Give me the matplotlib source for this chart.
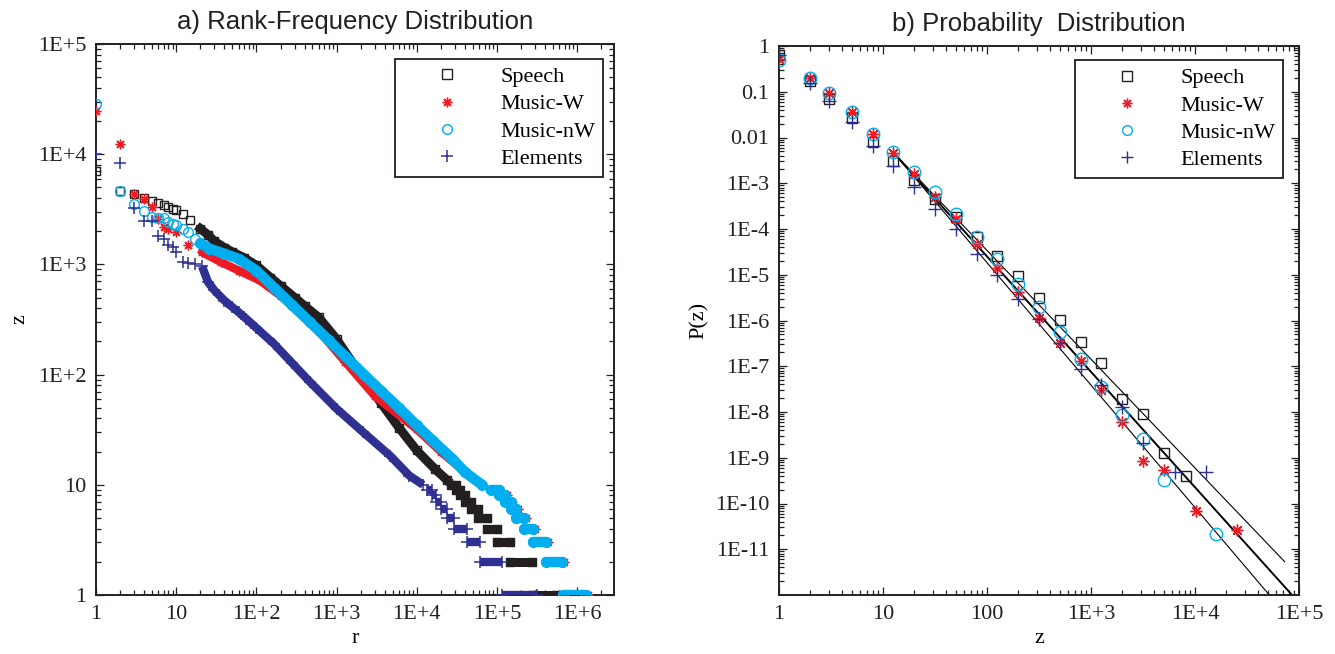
import numpy as np
import matplotlib.pyplot as plt
from matplotlib.ticker import FixedLocator, FixedFormatter, LogLocator, NullFormatter

# ---------------- a) rank-frequency data (read off the picture) ----------------
speech_r = [1, 2, 3, 4, 5, 6, 7, 8, 9, 10, 12, 15, 20, 25, 30, 40, 50, 70, 100, 150,
            200, 300, 400, 600, 1000, 1750, 3600, 6000, 10000, 16700, 24000]
speech_z = [7050, 4640, 4390, 4040, 3800, 3630, 3490, 3320, 3210, 3100, 2890, 2510, 2110, 1850, 1620,
            1420, 1300, 1150, 980, 760, 640, 500, 420, 330, 210, 115, 55, 33, 20.5, 14, 11]
speech_bar_z = [10, 9, 8, 7, 6, 5, 4, 3, 2, 1]
speech_bar_lo = [2.7e4, 3.1e4, 3.5e4, 4.0e4, 4.7e4, 5.8e4, 7.5e4, 1.0e5, 1.45e5, 2.7e5]
speech_bar_hi = [3.1e4, 3.5e4, 4.0e4, 4.7e4, 5.8e4, 7.5e4, 1.0e5, 1.45e5, 2.7e5, 5.7e5]

musw_r = [1, 2, 3, 4, 5, 6, 7, 8, 10, 14, 21, 36, 60, 110, 200, 400, 600, 1290, 3000,
          10000, 20000, 40000, 65000]
musw_z = [24800, 12300, 4390, 3950, 3320, 2600, 2200, 2100, 1970, 1490, 1290, 1050, 880, 716, 520,
          330, 250, 130, 64, 32, 20, 13, 10]
musw_bar_z = [9, 8, 7, 6, 5, 4, 3, 2, 1]
musw_bar_lo = [8.5e4, 1.05e5, 1.25e5, 1.48e5, 1.75e5, 2.2e5, 2.85e5, 4.1e5, 6.6e5]
musw_bar_hi = [1.1e5, 1.32e5, 1.56e5, 1.85e5, 2.3e5, 3.0e5, 4.35e5, 6.8e5, 1.38e6]

musnw_r = [1, 2, 3, 4, 5, 6, 7, 8, 9, 10, 12, 14, 17, 20, 26, 40, 60, 100, 166, 277,
           464, 800, 1290, 2200, 3590, 6000, 10000, 16000, 27800, 40000, 65000]
musnw_z = [28300, 4640, 3560, 3050, 2700, 2650, 2620, 2450, 2350, 2270, 2100, 1970, 1710, 1550, 1390,
           1250, 1125, 880, 616, 430, 300, 205, 146, 100, 71, 50, 34.6, 25, 17.2, 13, 10]
musnw_bar_z = [9, 8, 7, 6, 5, 4, 3, 2, 1]
musnw_bar_lo = [8.5e4, 1.05e5, 1.25e5, 1.48e5, 1.75e5, 2.2e5, 2.85e5, 4.1e5, 6.6e5]
musnw_bar_hi = [1.05e5, 1.25e5, 1.48e5, 1.75e5, 2.2e5, 2.85e5, 4.1e5, 6.4e5, 1.3e6]

elem_r = [1, 2, 3, 4, 5, 6, 7, 8, 9, 10, 12, 14, 17, 21, 25, 30, 40, 50, 60, 75, 100,
          166, 277, 464, 1000, 2150, 4640, 8100, 12000]
elem_z = [10000, 8280, 3250, 2460, 2460, 1810, 1690, 1510, 1440, 1290, 1050, 1030, 1000, 960, 690,
          580, 470, 410, 369, 320, 265, 190, 128, 86, 49, 30, 18.4, 12.1, 10]
elem_bar_z = [9, 8, 7, 6, 5, 4, 3, 2, 1]
elem_bar_lo = [1.35e4, 1.55e4, 1.75e4, 2.0e4, 2.4e4, 2.9e4, 4.2e4, 6.2e4, 1.15e5]
elem_bar_hi = [1.55e4, 1.75e4, 2.0e4, 2.4e4, 2.9e4, 4.2e4, 6.2e4, 1.15e5, 3.2e5]

# ---------------- b) probability distribution data ----------------
speech_pz = [1, 2, 3, 5, 7.94, 12.6, 20, 31.6, 50, 79.4, 126, 200, 316, 501, 794, 1259, 1995, 3162, 5012, 8120]
speech_p = [0.65, 0.17, 0.068, 0.027, 0.0079, 0.0031, 1.16e-3, 4.6e-4, 1.85e-4, 6.8e-5, 2.57e-5, 9.3e-6,
            3.1e-6, 1.02e-6, 3.4e-7, 1.15e-7, 1.97e-8, 9.0e-9, 1.27e-9, 3.96e-10]
musw_pz = [1, 2, 3, 5, 7.94, 12.6, 20, 31.6, 50, 79.4, 126, 200, 316, 501, 794, 1259, 1995, 3162, 5012, 10180, 25450]
musw_p = [0.52, 0.2, 0.095, 0.037, 0.0117, 0.0045, 1.6e-3, 5.0e-4, 1.62e-4, 4.6e-5, 1.42e-5, 4.25e-6,
          1.14e-6, 3.26e-7, 1.3e-7, 3.0e-8, 6.1e-9, 8.7e-10, 5.5e-10, 6.9e-11, 2.7e-11]
musnw_pz = [1, 2, 3, 5, 7.94, 12.6, 20, 31.6, 50, 79.4, 126, 200, 316, 501, 794, 1259, 1995, 3162, 5012, 16030]
musnw_p = [0.5, 0.2, 0.095, 0.037, 0.0121, 0.0048, 1.79e-3, 6.4e-4, 2.08e-4, 6.8e-5, 2.16e-5, 6.4e-6,
           2.0e-6, 5.6e-7, 1.42e-7, 3.6e-8, 8.7e-9, 2.56e-9, 3.2e-10, 2.2e-11]
elem_pz = [1, 2, 3, 5, 7.94, 12.6, 20, 31.6, 50, 79.4, 126, 200, 316, 501, 794, 1259, 1995, 3162, 6410, 12890]
elem_p = [0.62, 0.153, 0.062, 0.022, 0.0065, 0.0024, 8.4e-4, 2.77e-4, 9.8e-5, 2.88e-5, 9.7e-6, 3.0e-6,
          1.1e-6, 3.3e-7, 8.6e-8, 3.9e-8, 1.26e-8, 2.1e-9, 5.0e-10, 5.0e-10]

# power-law fits drawn as straight lines: start point, exponent, end z
fit_z0 = [12.8, 12.8, 12.8]
fit_p0 = [4.5e-3, 4.5e-3, 4.5e-3]
fit_slope = [-2.377, -2.523, -2.676]
fit_z1 = [7.28e4, 1.0e5, 1.0e5]
fit_lw = [0.8, 1.4, 0.8]

names = ["Speech", "Music-W", "Music-nW", "Elements"]
colors = ["#231f20", "#ed1c24", "#00aeef", "#2e3192"]

xt1 = [1, 10, 1e2, 1e3, 1e4, 1e5, 1e6]
xt1_lab = ["1", "10", "1E+2", "1E+3", "1E+4", "1E+5", "1E+6"]
yt1 = [1, 10, 1e2, 1e3, 1e4, 1e5]
yt1_lab = ["1", "10", "1E+2", "1E+3", "1E+4", "1E+5"]
xt2 = [1, 10, 100, 1e3, 1e4, 1e5]
xt2_lab = ["1", "10", "100", "1E+3", "1E+4", "1E+5"]
yt2 = [1, 0.1, 0.01, 1e-3, 1e-4, 1e-5, 1e-6, 1e-7, 1e-8, 1e-9, 1e-10, 1e-11]
yt2_lab = ["1", "0.1", "0.01", "1E-3", "1E-4", "1E-5", "1E-6", "1E-7", "1E-8", "1E-9", "1E-10", "1E-11"]

serif = "Liberation Serif"
sans = "Liberation Sans"

# marker styles: square, asterisk, circle, plus
mk = dict(
    Speech=dict(marker="s", ms=5.5, mfc="none", mew=1.0),
    MusicW=dict(marker=(8, 2, 0), ms=7, mew=1.0),
    MusicnW=dict(marker="o", ms=7, mfc="none", mew=1.0),
    Elements=dict(marker="+", ms=8, mew=1.1),
)
keys = ["Speech", "MusicW", "MusicnW", "Elements"]
band_lw = [6.5, 6.0, 7.5, 6.0]
cap = ["projecting", "round", "round", "butt"]

fig = plt.figure(figsize=(13.35, 6.54), dpi=100)
ax1 = fig.add_axes([96 / 1335, 1 - 595 / 654, (614 - 96) / 1335, (595 - 44) / 654])
ax2 = fig.add_axes([779 / 1335, 1 - 595 / 654, (1299 - 779) / 1335, (595 - 46) / 654])

# ---- panel a
rank_data = [
    (speech_r, speech_z, speech_bar_z, speech_bar_lo, speech_bar_hi),
    (musw_r, musw_z, musw_bar_z, musw_bar_lo, musw_bar_hi),
    (musnw_r, musnw_z, musnw_bar_z, musnw_bar_lo, musnw_bar_hi),
    (elem_r, elem_z, elem_bar_z, elem_bar_lo, elem_bar_hi),
]
for i, (r, z, bz, blo, bhi) in enumerate(rank_data):
    c = colors[i]
    r = np.array(r, float)
    z = np.array(z, float)
    zo = 2 + i
    band = r >= 20
    ax1.plot(r, z, ls="none", color=c, mec=c, zorder=zo, **mk[keys[i]])
    ax1.plot(r[band], z[band], "-", color=c, lw=band_lw[i], solid_capstyle=cap[i],
             solid_joinstyle="round", zorder=zo)
    for zb, lo, hi in zip(bz, blo, bhi):
        ax1.plot([lo, hi], [zb, zb], ls="none", color=c, mec=c, zorder=zo, **mk[keys[i]])
        ax1.plot([lo, hi], [zb, zb], "-", color=c, lw=band_lw[i], solid_capstyle=cap[i], zorder=zo)

# ---- panel b
prob_data = [(speech_pz, speech_p), (musw_pz, musw_p), (musnw_pz, musnw_p), (elem_pz, elem_p)]
mk2 = dict(
    Speech=dict(marker="s", ms=7.5, mfc="none", mew=1.0),
    MusicW=dict(marker=(8, 2, 0), ms=8.5, mew=1.0),
    MusicnW=dict(marker="o", ms=9, mfc="none", mew=1.0),
    Elements=dict(marker="+", ms=10, mew=1.0),
)
for i, (zz, pp) in enumerate(prob_data):
    c = colors[i]
    ax2.plot(zz, pp, ls="none", color=c, mec=c, zorder=3 + i, **mk2[keys[i]])
for z0, p0, s, z1, lw in zip(fit_z0, fit_p0, fit_slope, fit_z1, fit_lw):
    ax2.plot([z0, z1], [p0, p0 * (z1 / z0) ** s], "-", color="black", lw=lw, zorder=2)

# ---- axes styling
for ax in (ax1, ax2):
    ax.set_xscale("log")
    ax.set_yscale("log")
    for sp in ax.spines.values():
        sp.set_linewidth(1.4)
        sp.set_color("#231f20")
    ax.tick_params(which="both", direction="in", top=True, right=True, width=0.9, colors="#231f20")
    ax.tick_params(which="major", length=6, pad=7)
    ax.tick_params(which="minor", length=3.5)
    ax.xaxis.set_minor_locator(LogLocator(base=10, subs=np.arange(2, 10), numticks=30))
    ax.xaxis.set_minor_formatter(NullFormatter())
    ax.yaxis.set_minor_formatter(NullFormatter())

ax1.set_xlim(1, 10 ** 6.46)
ax1.set_ylim(1, 1e5)
ax1.xaxis.set_major_locator(FixedLocator(xt1))
ax1.xaxis.set_major_formatter(FixedFormatter(xt1_lab))
ax1.yaxis.set_major_locator(FixedLocator(yt1))
ax1.yaxis.set_major_formatter(FixedFormatter(yt1_lab))
ax1.yaxis.set_minor_locator(LogLocator(base=10, subs=np.arange(2, 10), numticks=30))

ax2.set_xlim(1, 1e5)
ax2.set_ylim(1e-12, 1)
ax2.xaxis.set_major_locator(FixedLocator(xt2))
ax2.xaxis.set_major_formatter(FixedFormatter(xt2_lab))
ax2.yaxis.set_major_locator(FixedLocator(yt2))
ax2.yaxis.set_major_formatter(FixedFormatter(yt2_lab))
ax2.yaxis.set_minor_locator(LogLocator(base=10, subs=np.arange(2, 10), numticks=30))

for ax in (ax1, ax2):
    for lab in ax.get_xticklabels() + ax.get_yticklabels():
        lab.set_fontfamily(serif)
        lab.set_fontsize(16)
        lab.set_color("#231f20")

ax1.set_title("a) Rank-Frequency Distribution", fontfamily=sans, fontsize=18.5, pad=11, color="#231f20")
ax2.set_title("b) Probability  Distribution", fontfamily=sans, fontsize=18.5, pad=11, color="#231f20")
ax1.set_xlabel("r", fontfamily=serif, fontsize=16, labelpad=4)
ax1.set_ylabel("z", fontfamily=serif, fontsize=16, labelpad=6)
ax2.set_xlabel("z", fontfamily=serif, fontsize=16, labelpad=4)
ax2.set_ylabel("P(z)", fontfamily=serif, fontsize=16, labelpad=4)

# legends
for ax, anchor, mks in ((ax1, (0.979, 0.973), mk), (ax2, (0.969, 0.9745), mk2)):
    handles = [plt.Line2D([], [], ls="none", color=c, mec=c, **{**mks[k], "ms": 7 if k != "Elements" else 9})
               for c, k in zip(colors, keys)]
    leg = ax.legend(handles, names, loc="upper right", bbox_to_anchor=anchor, borderaxespad=0,
                    prop={"family": serif, "size": 16}, handlelength=4, handletextpad=0.4,
                    labelspacing=0.3, borderpad=0.35, fancybox=False, framealpha=1)
    leg.get_frame().set_edgecolor("#231f20")
    leg.get_frame().set_linewidth(1.3)
    leg.set_zorder(10)

fig.savefig("out.png", dpi=100)
